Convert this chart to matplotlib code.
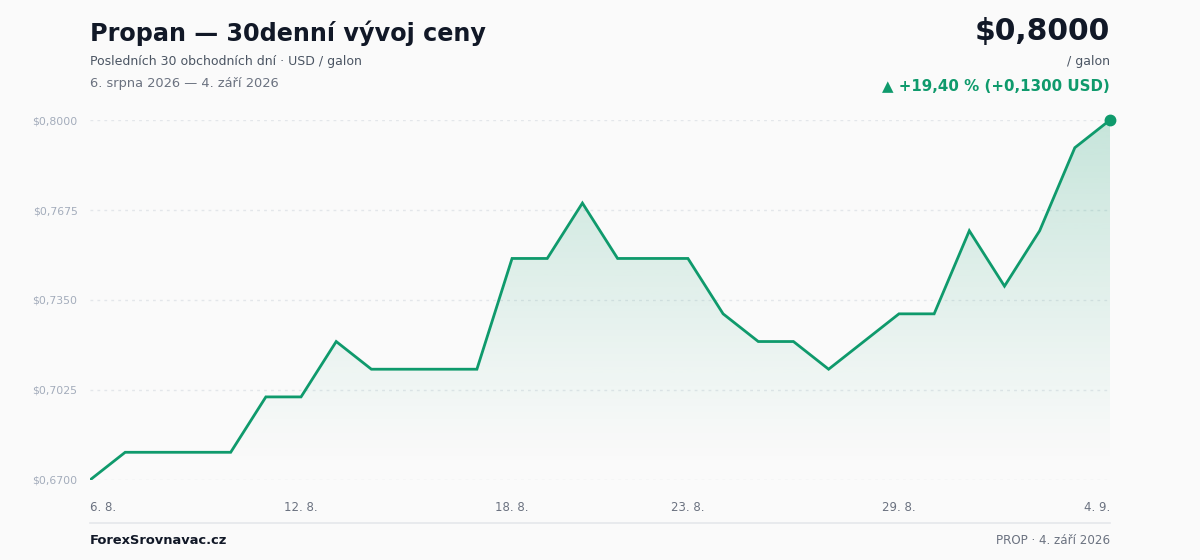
import numpy as np
import matplotlib.pyplot as plt
from matplotlib.patches import Polygon

# 30 calendar days, 6. 8. 2026 -> 4. 9. 2026
days = list(range(30))
prices = [0.670, 0.680, 0.680, 0.680, 0.680, 0.700, 0.700, 0.720, 0.710, 0.710,
          0.710, 0.710, 0.750, 0.750, 0.770, 0.750, 0.750, 0.750, 0.730, 0.720,
          0.720, 0.710, 0.720, 0.730, 0.730, 0.760, 0.740, 0.760, 0.790, 0.800]
tick_pos = [0, 6, 12, 17, 23, 29]
tick_labels = ['6. 8.', '12. 8.', '18. 8.', '23. 8.', '29. 8.', '4. 9.']
y_ticks = [0.6700, 0.7025, 0.7350, 0.7675, 0.8000]

green = '#0f9a6c'
bg = '#fafafa'

plt.rcParams['font.family'] = ['DejaVu Sans']
fig = plt.figure(figsize=(12, 5.6), dpi=100, facecolor=bg)
ax = fig.add_axes([0.075, 0.1429, 0.85, 0.6428], facecolor=bg)

ax.set_xlim(0, 29)
ax.set_ylim(0.67, 0.80)

# gradient fill under the line
x = np.array(days)
y = np.array(prices)
grad = np.linspace(0, 1, 256).reshape(-1, 1)
cmap_rgba = np.zeros((256, 1, 4))
cmap_rgba[..., 0] = 0x0f / 255
cmap_rgba[..., 1] = 0x9a / 255
cmap_rgba[..., 2] = 0x6c / 255
cmap_rgba[..., 3] = (grad ** 1.1) * 0.22
img = ax.imshow(cmap_rgba, extent=[0, 29, 0.6755, 0.80], origin='lower',
                aspect='auto', zorder=1)
poly = Polygon(np.column_stack([np.r_[x, x[-1], x[0]], np.r_[y, 0.67, 0.67]]),
               closed=True, transform=ax.transData, facecolor='none', edgecolor='none')
ax.add_patch(poly)
img.set_clip_path(poly)

ax.plot(x, y, color=green, lw=2, zorder=3, solid_joinstyle='miter')
ax.plot([x[-1]], [y[-1]], 'o', color=green, ms=7.5, zorder=4, clip_on=False)

for v in y_ticks:
    ax.axhline(v, color='#e3e6ea', lw=1, ls=(0, (2, 3)), zorder=0)

ax.set_yticks(y_ticks)
ax.set_yticklabels(['$' + f'{v:.4f}'.replace('.', ',') for v in y_ticks],
                   fontsize=7.8, color='#a3acbb')
ax.set_xticks(tick_pos)
ax.set_xticklabels(tick_labels, fontsize=8.5, color='#6b7280')
xl = ax.get_xticklabels()
xl[0].set_ha('left')
xl[-1].set_ha('right')
ax.tick_params(length=0, axis='y', pad=9)
ax.tick_params(length=0, axis='x', pad=15)
for s in ax.spines.values():
    s.set_visible(False)

# header
fig.text(0.075, 0.94, 'Propan — 30denní vývoj ceny', fontsize=17.2, fontweight='bold',
         color='#111827', va='center')
fig.text(0.075, 0.891, 'Posledních 30 obchodních dní · USD / galon', fontsize=9,
         color='#4b5563', va='center')
fig.text(0.075, 0.851, '6. srpna 2026 — 4. září 2026', fontsize=9.4,
         color='#6b7280', va='center')

fig.text(0.925, 0.943, '$0,8000', fontsize=21.4, fontweight='bold', color='#111827',
         va='center', ha='right')
fig.text(0.925, 0.891, '/ galon', fontsize=9, color='#4b5563', va='center', ha='right')
fig.text(0.925, 0.845, '▲ +19,40 % (+0,1300 USD)', fontsize=10.85, fontweight='bold',
         color=green, va='center', ha='right')

# footer
fig.add_artist(plt.Line2D([0.075, 0.925], [0.066, 0.066], color='#e5e7eb', lw=1.2))
fig.text(0.075, 0.034, 'ForexSrovnavac.cz', fontsize=9.4, fontweight='bold',
         color='#111827', va='center')
fig.text(0.925, 0.034, 'PROP · 4. září 2026', fontsize=8.6, color='#6b7280',
         va='center', ha='right')

fig.savefig('out.png', dpi=100, facecolor=bg)
